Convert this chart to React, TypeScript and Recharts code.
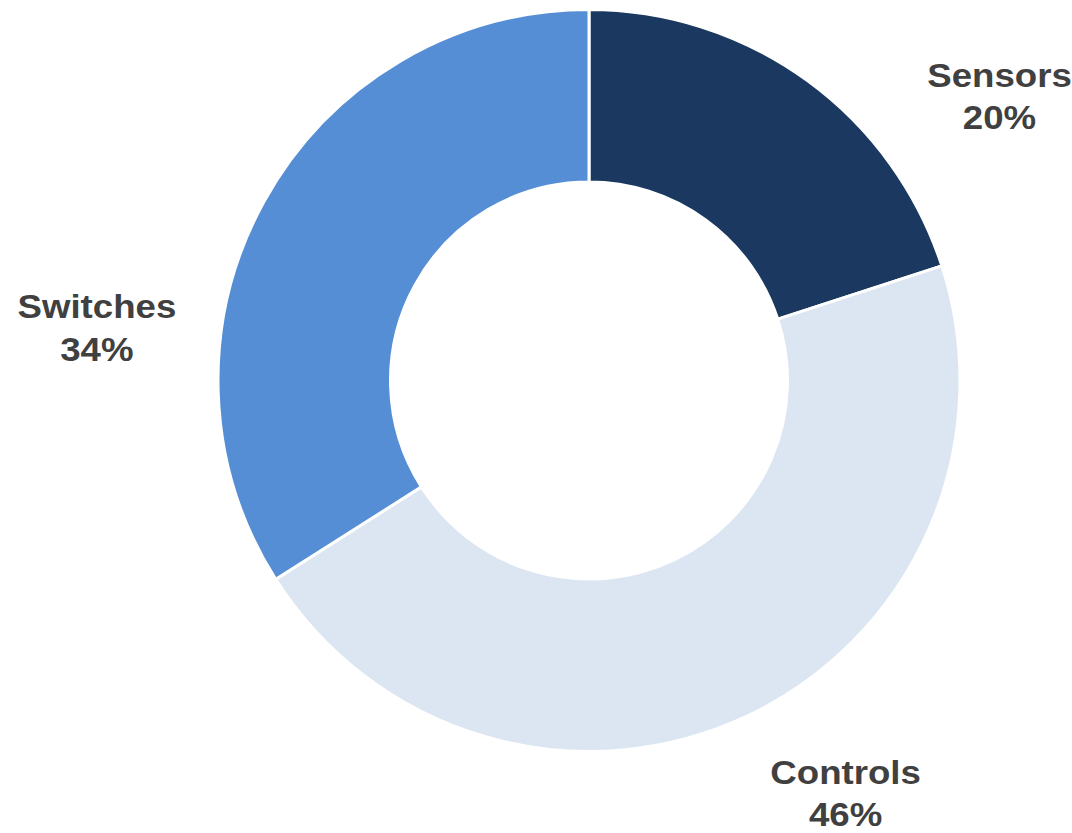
import { PieChart, Pie, Cell } from "recharts";

const categories = ["Sensors", "Controls", "Switches"];
const shares = [20, 46, 34];
const colors = ["#1a3860", "#dce6f2", "#558ed5"];

// where Excel's "best fit" put each label (degrees, counter-clockwise from 3 o'clock)
const labelAngles: Record<string, number> = {
  Sensors: 33.8,
  Controls: -58.7,
  Switches: 175,
};
const LABEL_RADIUS = 494;

const data = categories.map((name, i) => ({ name, value: shares[i] }));

const RADIAN = Math.PI / 180;

function renderLabel(props: any) {
  const { cx, cy, name, percent } = props;
  const angle = labelAngles[name] ?? props.midAngle;
  const x = cx + LABEL_RADIUS * Math.cos(-angle * RADIAN);
  const y = cy + LABEL_RADIUS * Math.sin(-angle * RADIAN);
  // the source font renders wider than Liberation Sans, so stretch horizontally
  return (
    <text
      x={x}
      y={y}
      textAnchor="middle"
      fill="#404040"
      fontSize={33}
      fontWeight="bold"
      fontFamily="'Liberation Sans', Arial, sans-serif"
      transform={`translate(${x} 0) scale(1.11 1) translate(${-x} 0)`}
    >
      <tspan x={x} y={y - 19}>
        {name}
      </tspan>
      <tspan x={x} y={y + 23.5}>
        {Math.round(percent * 100)}%
      </tspan>
    </text>
  );
}

export default function App() {
  return (
    <div style={{ position: "absolute", left: 0, top: 0, background: "#fff" }}>
      <PieChart width={1072} height={833} margin={{ top: 0, right: 0, bottom: 0, left: 0 }}>
        <Pie
          data={data}
          dataKey="value"
          nameKey="name"
          cx={589}
          cy={380.5}
          innerRadius={198.5}
          outerRadius={371}
          startAngle={90}
          endAngle={-270}
          stroke="#ffffff"
          strokeWidth={3}
          label={renderLabel}
          labelLine={false}
          isAnimationActive={false}
        >
          {data.map((d, i) => (
            <Cell key={d.name} fill={colors[i]} />
          ))}
        </Pie>
      </PieChart>
    </div>
  );
}
